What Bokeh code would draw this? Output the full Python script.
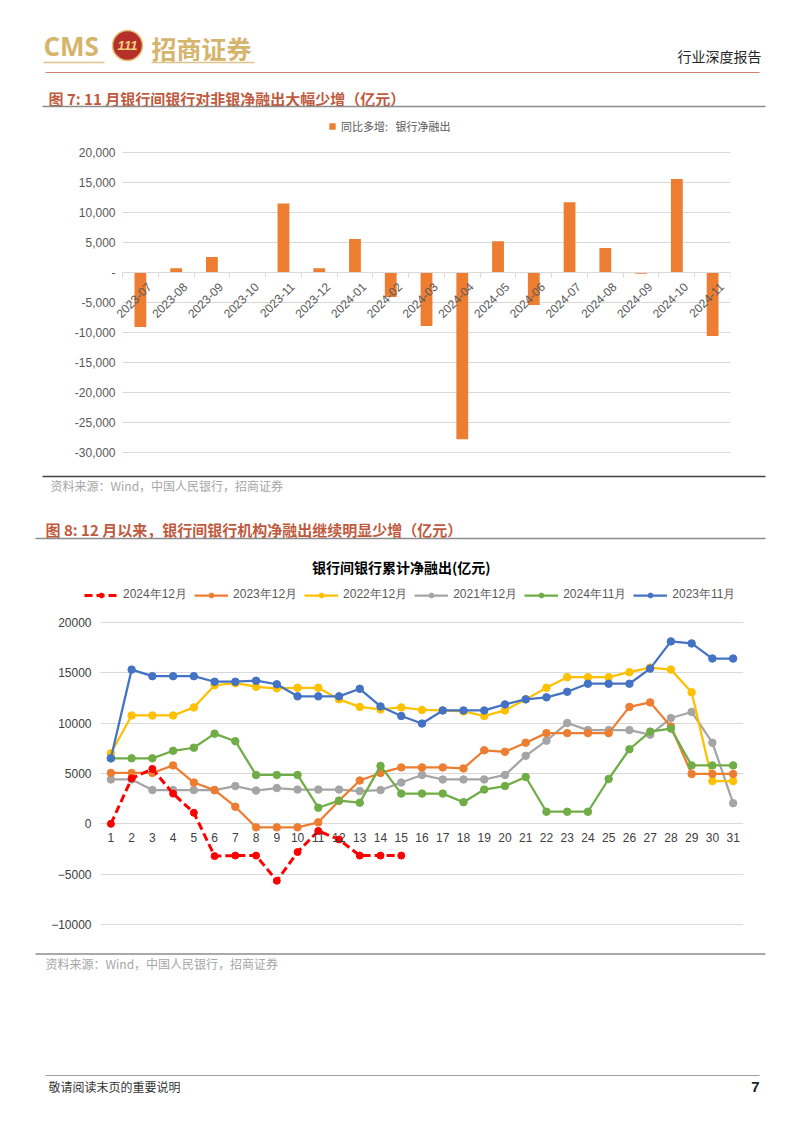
from math import pi
from bokeh.plotting import figure
from bokeh.layouts import column
from bokeh.models import Range1d, FixedTicker, Legend, LegendItem, Label, BoxAnnotation
from bokeh.core.properties import value
from bokeh.embed import file_html
from bokeh.resources import INLINE

# ---------------- data: chart 1 (bar) ----------------
months = ["2023-07", "2023-08", "2023-09", "2023-10", "2023-11", "2023-12",
          "2024-01", "2024-02", "2024-03", "2024-04", "2024-05", "2024-06",
          "2024-07", "2024-08", "2024-09", "2024-10", "2024-11"]
net_lending_yoy = [-9100, 700, 2600, 100, 11500, 700, 5600, -4100, -8900,
                   -27800, 5200, -5400, 11700, 4100, -200, 15600, -10600]
bar_series_name = "同比多增:\u00a0\u00a0\u00a0银行净融出"
y1_ticks = [20000, 15000, 10000, 5000, 0, -5000, -10000, -15000, -20000, -25000, -30000]
y1_tick_labels = ["20,000", "15,000", "10,000", "5,000", "-", "-5,000", "-10,000",
                  "-15,000", "-20,000", "-25,000", "-30,000"]

# ---------------- data: chart 2 (lines) ----------------
days = list(range(1, 32))
s_2024_12 = [0, 4500, 5450, 3000, 1100, -3200, -3150, -3150, -5650, -2800, -700,
             -1550, -3150, -3150, -3150]
s_2023_12 = [5050, 5050, 5050, 5800, 4100, 3350, 1700, -350, -350, -350, 150, 2300,
             4300, 5050, 5600, 5600, 5600, 5500, 7300, 7150, 8050, 9000, 9000, 9000,
             9000, 11600, 12050, 9650, 4950, 4950, 4950]
s_2022_12 = [7000, 10750, 10750, 10750, 11550, 13750, 13950, 13600, 13450, 13500,
             13500, 12350, 11600, 11350, 11550, 11300, 11250, 11150, 10700, 11250,
             12350, 13500, 14550, 14550, 14550, 15050, 15500, 15300, 13050, 4250, 4250]
s_2021_12 = [4400, 4400, 3350, 3350, 3350, 3350, 3750, 3300, 3550, 3400, 3400, 3400,
             3250, 3350, 4100, 4850, 4400, 4400, 4400, 4850, 6750, 8250, 10000, 9300,
             9300, 9300, 8850, 10500, 11100, 8050, 2050]
s_2024_11 = [6500, 6500, 6500, 7250, 7550, 8950, 8200, 4850, 4850, 4850, 1600, 2300,
             2100, 5750, 3000, 3000, 3000, 2150, 3400, 3750, 4650, 1200, 1200, 1200,
             4450, 7400, 9150, 9450, 5800, 5800, 5800]
s_2023_11 = [6500, 15300, 14650, 14650, 14650, 14100, 14100, 14200, 13850, 12650,
             12650, 12650, 13400, 11650, 10700, 9950, 11250, 11250, 11250, 11850,
             12350, 12550, 13100, 13900, 13900, 13900, 15400, 18100, 17900, 16400, 16400]
line_names = ["2024年12月", "2023年12月", "2022年12月", "2021年12月", "2024年11月", "2023年11月"]
line_colors = ["#ff0000", "#ed7d31", "#ffc000", "#a5a5a5", "#70ad47", "#4472c4"]
y2_ticks = [-10000, -5000, 0, 5000, 10000, 15000, 20000]

# ---------------- texts ----------------
header_right = "行业深度报告"
title7 = "图 7:  11 月银行间银行对非银净融出大幅少增（亿元）"
title8 = "图 8:  12 月以来，银行间银行机构净融出继续明显少增（亿元）"
chart2_title = "银行间银行累计净融出(亿元)"
source_text = "资料来源：Wind，中国人民银行，招商证券"
footer_text = "敬请阅读末页的重要说明"
page_no = "7"

W = 802
CJK = "Noto Sans CJK SC"
NUM = "Liberation Sans"
TITLE_RED = "#bf5a3e"
GOLD = "#d5b46c"


def deco(h, top):
    p = figure(width=W, height=h, x_range=Range1d(0, W), y_range=Range1d(top + h, top),
               x_axis_type=None, y_axis_type=None, toolbar_location=None,
               output_backend="svg", min_border=0, outline_line_color=None,
               frame_align=False)
    return p


def txt(p, x, y, s, size, color, font=CJK, style="normal", align="left"):
    p.text(x=[x], y=[y], text=[s], text_font=value(font), text_font_size=value(size),
           text_color=color, text_font_style=style, text_align=align,
           text_baseline="middle")


def limit_grid(p, lo, hi):
    try:
        p.ygrid[0].cross_bounds = (lo, hi)
    except AttributeError:
        p.add_layout(BoxAnnotation(right=lo, fill_color="white", fill_alpha=1,
                                   line_color=None, level="underlay"))


# ---------------- header ----------------
pa = deco(112, 0)
txt(pa, 43, 45, "CMS", "26px", GOLD, font="Open Sans", style="bold")
pa.scatter(x=[127], y=[45], size=30, marker="circle", fill_color="#b5302a",
           line_color="#e3c27a", line_width=1.5)
txt(pa, 127, 45, "111", "13px", "#f3d27a", font=NUM, style="bold italic", align="center")
txt(pa, 151, 47, "招商证券", "25px", GOLD, style="bold")
pa.segment(x0=[43, 151], y0=[62, 62], x1=[104, 254], y1=[62, 62],
           line_color="#dcc48e", line_width=1.5)
txt(pa, 761, 55, header_right, "14px", "#262626", align="right")
pa.segment(x0=[45], y0=[72], x1=[759], y1=[72], line_color="#d67e72", line_width=1.2)
txt(pa, 48, 97.5, title7, "15px", TITLE_RED, style="bold")
pa.segment(x0=[42], y0=[106], x1=[765], y1=[106], line_color="#8c8c8c", line_width=1.5)

# ---------------- chart 1 ----------------
idx = list(range(len(months)))
lab_pos = [i + 0.25 for i in idx]
p1 = figure(width=W, height=358, x_range=Range1d(-2.234, len(months) - 0.5),
            y_range=Range1d(-32000, 26667), toolbar_location=None,
            output_backend="svg", min_border_left=60, min_border_right=72,
            min_border_top=0, min_border_bottom=6, outline_line_color=None,
            frame_align=False)
yt1 = FixedTicker(ticks=y1_ticks)
limit_grid(p1, -0.5, len(months) - 0.5)
bars = p1.vbar(x=idx, top=net_lending_yoy, width=0.33, fill_color="#ed7d31",
               line_color=None)
p1.yaxis.ticker = yt1
p1.yaxis.fixed_location = -0.5
p1.yaxis.major_label_overrides = dict(zip(y1_ticks, y1_tick_labels))
p1.yaxis.axis_line_color = None
p1.yaxis.major_tick_line_color = None
p1.yaxis.minor_tick_line_color = None
p1.yaxis.major_tick_out = 0
p1.yaxis.major_label_standoff = 7
p1.yaxis.major_label_text_font = NUM
p1.yaxis.major_label_text_font_size = "12px"
p1.yaxis.major_label_text_color = "#595959"
p1.ygrid.ticker = yt1
p1.ygrid.grid_line_color = "#d9d9d9"
p1.xgrid.grid_line_color = None
p1.xaxis.ticker = FixedTicker(ticks=lab_pos, minor_ticks=[i - 0.5 for i in range(len(months) + 1)])
p1.xaxis.major_label_overrides = dict(zip(lab_pos, months))
p1.xaxis.major_label_orientation = pi / 4
p1.xaxis.fixed_location = 0
p1.xaxis.bounds = (-0.5, len(months) - 0.5)
p1.xaxis.axis_line_color = "#d9d9d9"
p1.xaxis.major_tick_line_color = None
p1.xaxis.minor_tick_line_color = "#d9d9d9"
p1.xaxis.minor_tick_in = 0
p1.xaxis.minor_tick_out = 5
p1.xaxis.major_label_standoff = 6
p1.xaxis.major_label_text_font = NUM
p1.xaxis.major_label_text_font_size = "12px"
p1.xaxis.major_label_text_color = "#595959"
leg1 = Legend(items=[LegendItem(label=bar_series_name, renderers=[bars])],
              location=(268, 330), orientation="horizontal", glyph_width=8,
              glyph_height=8, label_text_font_size="11px", label_text_color="#595959",
              label_text_font=CJK, border_line_color=None, background_fill_alpha=0,
              padding=0, margin=0, label_height=14, label_standoff=5)
p1.add_layout(leg1)

# ---------------- separator ----------------
pc = deco(82, 470)
pc.segment(x0=[42], y0=[476], x1=[765], y1=[476], line_color="#404040", line_width=1.5)
txt(pc, 50, 484.5, source_text, "12px", "#a6a6a6")
txt(pc, 45, 529, title8, "15px", TITLE_RED, style="bold")
pc.segment(x0=[35], y0=[538], x1=[765], y1=[538], line_color="#8c8c8c", line_width=1.5)

# ---------------- chart 2 ----------------
p2 = figure(width=W, height=396, x_range=Range1d(-2.393, 31.5),
            y_range=Range1d(-12070, 26920), toolbar_location=None,
            output_backend="svg", min_border_left=40, min_border_right=59,
            min_border_top=0, min_border_bottom=3, outline_line_color=None,
            frame_align=False)
yt2 = FixedTicker(ticks=y2_ticks)
limit_grid(p2, 0.5, 31.5)
p2.yaxis.ticker = yt2
p2.yaxis.fixed_location = 0.5
p2.yaxis.axis_line_color = None
p2.yaxis.major_tick_line_color = None
p2.yaxis.minor_tick_line_color = None
p2.yaxis.major_tick_out = 0
p2.yaxis.major_label_standoff = 9
p2.yaxis.major_label_text_font = NUM
p2.yaxis.major_label_text_font_size = "12px"
p2.yaxis.major_label_text_color = "#404040"
p2.ygrid.ticker = yt2
p2.ygrid.grid_line_color = "#d9d9d9"
p2.xgrid.grid_line_color = None
p2.xaxis.ticker = FixedTicker(ticks=days)
p2.xaxis.fixed_location = 0
p2.xaxis.bounds = (0.5, 31.5)
p2.xaxis.axis_line_color = None
p2.xaxis.major_tick_line_color = None
p2.xaxis.minor_tick_line_color = None
p2.xaxis.major_tick_out = 0
p2.xaxis.major_label_standoff = 9
p2.xaxis.major_label_text_font = NUM
p2.xaxis.major_label_text_font_size = "12px"
p2.xaxis.major_label_text_color = "#404040"

series = [s_2024_12, s_2023_12, s_2022_12, s_2021_12, s_2024_11, s_2023_11]
draw_order = [3, 2, 1, 4, 5, 0]
rend = {}
for k in draw_order:
    ys = series[k]
    xs = days[:len(ys)]
    if k == 0:
        ln = p2.line(xs, ys, line_color=line_colors[k], line_width=3, line_dash="8 4")
        mk = p2.scatter(xs, ys, size=7, marker="circle", fill_color=line_colors[k],
                        line_color=line_colors[k])
    else:
        ln = p2.line(xs, ys, line_color=line_colors[k], line_width=2.25)
        mk = p2.scatter(xs, ys, size=7.5, marker="circle", fill_color=line_colors[k],
                        line_color=line_colors[k])
    rend[k] = [ln, mk]
leg2 = Legend(items=[LegendItem(label=line_names[k], renderers=rend[k]) for k in range(6)],
              location=(44, 342), orientation="horizontal", glyph_width=34,
              glyph_height=12, label_text_font_size="12px", label_text_color="#595959",
              label_text_font=NUM, border_line_color=None, background_fill_alpha=0,
              padding=0, margin=0, label_height=14, label_standoff=5, spacing=7)
p2.add_layout(leg2)
p2.add_layout(Label(x=15, y=25500, text=chart2_title, text_align="center",
                    text_baseline="middle", text_font=CJK, text_font_size="14px",
                    text_font_style="bold", text_color="#000000"))

# ---------------- footer ----------------
pe = deco(185, 948)
pe.segment(x0=[35], y0=[953.5], x1=[765], y1=[953.5], line_color="#8c8c8c", line_width=1.5)
txt(pe, 45, 963, source_text, "12px", "#a6a6a6")
pe.segment(x0=[45], y0=[1075], x1=[759], y1=[1075], line_color="#a0a0a0", line_width=1)
txt(pe, 48, 1086, footer_text, "12px", "#333333")
txt(pe, 759, 1086, page_no, "15px", "#222222", font=NUM, style="bold", align="right")

layout = column(pa, p1, pc, p2, pe, spacing=0)
open("out.html", "w").write(file_html(layout, INLINE))
